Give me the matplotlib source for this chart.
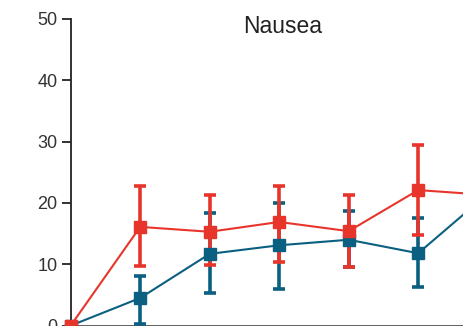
import matplotlib.pyplot as plt
import numpy as np

plt.rcParams['font.family'] = ['Liberation Sans', 'DejaVu Sans']

# time points (only the first part of the panel is visible)
visits = [0, 1, 2, 3, 4, 5, 6]

# red group: mean and error bar ends
red_mean = [0, 16.1, 15.3, 16.9, 15.4, 22.1, 21.3]
red_low = [0, 9.7, 9.9, 10.4, 9.6, 14.8, 14.5]
red_high = [0, 22.8, 21.3, 22.8, 21.3, 29.4, 28.0]

# blue group
blue_mean = [0, 4.5, 11.7, 13.1, 14.0, 11.8, 21.5]
blue_low = [0, 0.3, 5.3, 6.0, 9.6, 6.3, 15.0]
blue_high = [0, 8.1, 18.4, 20.0, 18.7, 17.5, 28.0]

red = '#e8352c'
blue = '#0b5f80'

fig = plt.figure(figsize=(4.64, 3.26), dpi=100)
ax = fig.add_axes([70.7/464, 0.4/326, 1 - 70.7/464, (325.6 - 19)/326])

x = np.array(visits)
for mean, low, high, col in [(blue_mean, blue_low, blue_high, blue),
                             (red_mean, red_low, red_high, red)]:
    mean = np.array(mean)
    err = [mean - np.array(low), np.array(high) - mean]
    ax.errorbar(x, mean, yerr=err, color=col, lw=1.5, elinewidth=2.6,
                capsize=4.5, capthick=2.6, marker='s', markersize=8.5,
                clip_on=False, zorder=3)

ax.set_yticks([0, 10, 20, 30, 40, 50])
ax.set_xticks(visits[:6])
ax.set_xticklabels([])
ax.set_xlim(0, (464 - 70.7)/69.5)
ax.set_ylim(0, 50)

for s in ['top', 'right']:
    ax.spines[s].set_visible(False)
ax.spines['left'].set_color('#222222')
ax.spines['left'].set_linewidth(1.3)
ax.spines['bottom'].set_color('#555555')
ax.spines['bottom'].set_linewidth(1.3)
ax.tick_params(axis='y', length=6.5, width=1.3, color='#222222',
               labelsize=13, labelcolor='#333333', pad=3)
ax.tick_params(axis='x', length=5, width=1.3, color='#555555')

fig.text(283/464, 1 - 33/326, 'Nausea', ha='center', va='baseline',
         fontsize=16.5, color='#222222')

plt.savefig('out.png', dpi=100)
